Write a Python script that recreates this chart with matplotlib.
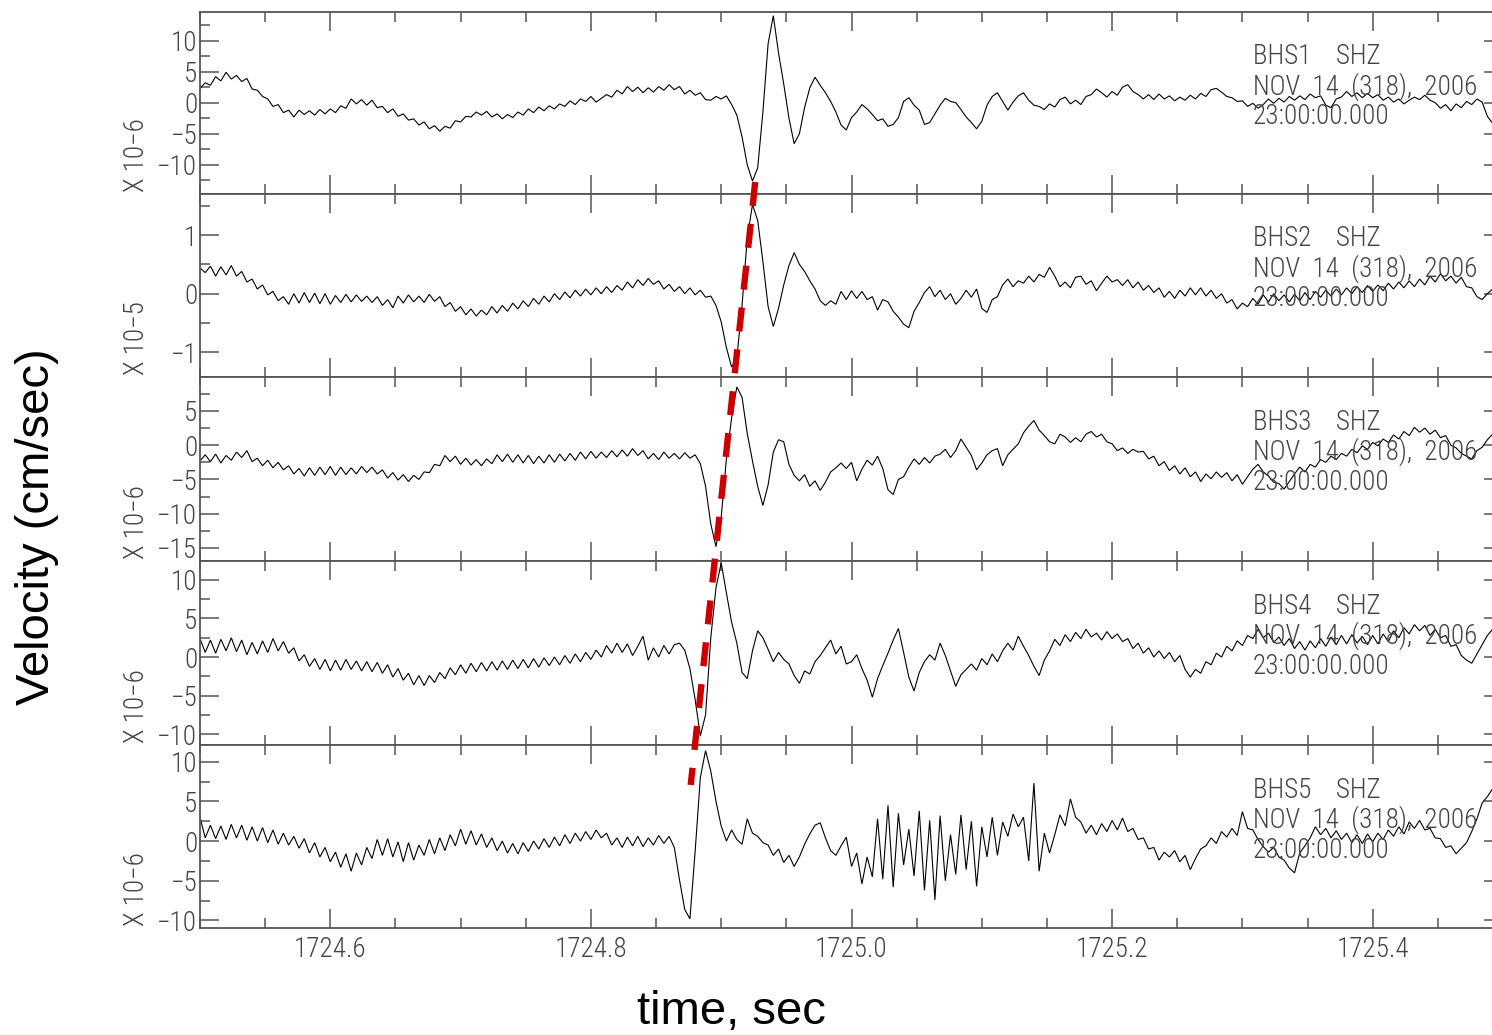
import numpy as np
import matplotlib
matplotlib.use("Agg")
import matplotlib.pyplot as plt
import matplotlib.transforms as mtransforms
from matplotlib.lines import Line2D
from matplotlib.ticker import MultipleLocator, FixedLocator, FixedFormatter

# ---- data -------------------------------------------------------------
t_start = 1724.5          # s
dt = 0.004                # s, sample spacing of the traces below

stations = ["BHS1", "BHS2", "BHS3", "BHS4", "BHS5"]
component = "SHZ"
date_line = "NOV  14  (318),  2006"
time_line = "23:00:00.000"
exponents = [-6, -5, -6, -6, -6]

bhs1 = [
    2.3, 3.2, 2.8, 4.2, 3.5, 4.9, 3.8, 4.4, 3.4, 3.9,
    2.2, 2.0, 1.0, 0.6, -0.6, -0.3, -1.6, -1.2, -2.3, -1.2,
    -1.9, -1.3, -2.0, -1.1, -1.8, -1.0, -1.6, -0.5, -0.9, 0.6,
    -0.2, 0.5, -0.4, 0.4, -0.8, -0.6, -1.6, -1.0, -2.2, -1.8,
    -2.8, -2.6, -3.6, -3.1, -4.2, -3.7, -4.6, -3.8, -4.1, -2.9,
    -3.1, -2.2, -2.3, -1.5, -2.0, -1.4, -2.3, -1.8, -2.6, -1.9,
    -2.4, -1.5, -2.0, -1.0, -1.6, -0.7, -1.3, -0.5, -1.0, -0.2,
    -0.6, 0.3, -0.3, 0.6, 0.2, 1.0, 0.1, 0.7, 1.3, 0.9,
    2.0, 1.4, 2.6, 1.8, 2.5, 1.6, 2.4, 1.7, 2.6, 2.0,
    2.9, 2.1, 2.6, 1.4, 2.0, 1.2, 1.6, 0.5, 0.4, 1.0,
    0.6, 1.1, -0.3, -2.0, -5.5, -10.0, -12.6, -10.5, -1.5, 9.5,
    14.0, 8.0, 3.0, -2.5, -6.6, -5.0, -0.8, 2.4, 4.1, 2.8,
    1.6, 0.2, -1.5, -3.6, -4.4, -2.4, -1.5, -0.3, -1.0, -1.9,
    -2.9, -2.6, -3.8, -3.5, -2.4, 0.2, 0.8, -0.4, -1.2, -3.5,
    -3.2, -1.8, -0.4, 0.7, 0.2, 0.0, -1.1, -2.3, -3.2, -4.2,
    -3.0, -0.4, 1.0, 1.6, 0.2, -1.2, 0.1, 1.1, 1.6, 0.4,
    -0.4, -0.6, -1.1, -0.2, -0.7, 0.5, 0.9, -0.2, 0.4, -0.3,
    1.0, 1.3, 2.2, 1.6, 0.9, 1.8, 1.2, 2.5, 2.9, 1.8,
    1.3, 0.6, 1.3, 0.5, 1.4, 0.6, 1.1, 0.3, 0.9, 0.4,
    1.2, 0.6, 1.5, 1.0, 2.1, 2.3, 1.7, 1.0, 0.8, 0.2,
    0.3, -0.6, -0.1, -0.9, -0.3, 0.6, -0.1, 0.7, 0.1, 1.0,
    0.4, 1.1, 0.5, 1.4, 0.8, 1.1, -0.4, -0.8, 0.6, 0.9,
    1.8, 1.0, 1.6, 0.8, 1.5, 0.8, 1.3, 0.4, 0.9, 0.1,
    0.6, -0.2, 0.4, 0.9, 0.5, 1.2, 0.4, 0.0, -0.9, -0.3,
    -1.3, -0.2, -0.8, 0.2, -0.3, 0.6, 0.1, -2.2, -3.3, -3.6,
    -3.8,
]

bhs2 = [
    0.44, 0.36, 0.47, 0.30, 0.46, 0.32, 0.48, 0.30, 0.38, 0.20,
    0.25, 0.08, 0.15, -0.02, 0.04, -0.12, -0.05, -0.18, 0.00, -0.16,
    0.02, -0.15, 0.01, -0.17, 0.00, -0.18, -0.03, -0.15, -0.01, -0.14,
    -0.02, -0.13, -0.04, -0.15, -0.05, -0.20, -0.10, -0.24, -0.04, -0.16,
    -0.02, -0.14, -0.04, -0.15, -0.01, -0.13, -0.05, -0.22, -0.15, -0.30,
    -0.22, -0.36, -0.26, -0.38, -0.28, -0.36, -0.22, -0.33, -0.20, -0.30,
    -0.16, -0.26, -0.12, -0.22, -0.08, -0.18, -0.04, -0.14, 0.00, -0.10,
    0.03, -0.07, 0.06, -0.04, 0.08, -0.02, 0.10, 0.00, 0.12, 0.02,
    0.14, 0.06, 0.20, 0.10, 0.24, 0.14, 0.26, 0.16, 0.22, 0.08,
    0.16, 0.04, 0.12, 0.00, 0.10, -0.02, 0.06, -0.06, -0.04, -0.20,
    -0.48, -0.92, -1.25, -1.10, -0.20, 0.95, 1.52, 1.25, 0.55, -0.22,
    -0.56, -0.25, 0.15, 0.48, 0.70, 0.50, 0.38, 0.22, 0.08, -0.12,
    -0.20, -0.12, -0.18, 0.04, -0.10, 0.05, -0.08, 0.04, -0.10, -0.05,
    -0.28, -0.10, -0.14, -0.30, -0.40, -0.52, -0.58, -0.30, -0.15, 0.02,
    0.12, -0.05, 0.06, -0.10, 0.00, -0.18, -0.08, 0.06, -0.06, 0.08,
    -0.25, -0.32, -0.10, -0.05, 0.15, 0.25, 0.12, 0.22, 0.18, 0.30,
    0.20, 0.33, 0.28, 0.45, 0.30, 0.12, 0.20, 0.10, 0.28, 0.30,
    0.16, 0.22, 0.05, 0.18, 0.30, 0.20, 0.24, 0.14, 0.24, 0.10,
    0.20, 0.06, 0.14, 0.02, 0.10, -0.06, 0.04, -0.08, 0.06, -0.04,
    0.10, -0.02, 0.10, -0.04, 0.06, -0.08, 0.00, -0.16, -0.10, -0.26,
    -0.16, -0.22, -0.08, -0.18, -0.02, -0.14, 0.00, -0.12, -0.02, -0.14,
    -0.01, -0.12, 0.02, -0.10, 0.04, -0.06, 0.06, -0.04, 0.08, -0.02,
    0.10, 0.00, 0.12, 0.02, 0.14, 0.04, 0.15, 0.05, 0.18, 0.08,
    0.20, 0.10, 0.22, 0.12, 0.25, 0.15, 0.30, 0.20, 0.34, 0.22,
    0.30, 0.18, 0.28, 0.12, 0.10, -0.05, -0.10, 0.00, 0.08, 0.05,
    0.10,
]

bhs3 = [
    -2.3, -1.4, -2.4, -1.3, -2.6, -1.5, -2.2, -1.0, -1.8, -0.8,
    -2.4, -1.9, -3.0, -2.2, -3.3, -2.5, -3.6, -3.0, -4.2, -3.4,
    -4.5, -3.3, -4.4, -3.2, -4.3, -3.1, -4.4, -3.2, -4.3, -3.3,
    -4.2, -3.1, -4.0, -3.2, -4.2, -3.6, -4.8, -4.0, -5.1, -4.3,
    -5.3, -4.4, -5.0, -3.9, -4.0, -2.8, -3.0, -1.5, -2.4, -1.6,
    -2.8, -1.9, -2.9, -2.1, -3.0, -2.0, -2.7, -1.4, -2.4, -1.3,
    -2.5, -1.4, -2.6, -1.5, -2.7, -1.6, -2.6, -1.4, -2.5, -1.3,
    -2.3, -1.2, -2.2, -1.0, -2.0, -0.9, -1.9, -1.0, -1.8, -0.8,
    -1.7, -0.7, -1.6, -0.5, -1.5, -0.8, -2.0, -1.2, -2.1, -1.0,
    -1.9, -1.2, -2.0, -1.1, -1.9, -1.4, -2.7, -6.0, -11.5, -14.8,
    -10.5, -2.0, 4.0, 8.5, 7.0, 1.7, -2.3, -6.0, -8.8, -5.8,
    -1.0, 0.8, 0.5, -2.8, -4.4, -5.2, -4.3, -6.0, -5.2, -6.6,
    -5.4, -3.9, -3.3, -2.6, -3.4, -2.5, -5.2, -3.5, -2.2, -2.9,
    -1.6, -3.4, -6.5, -7.2, -5.0, -4.6, -3.2, -2.0, -2.8, -1.8,
    -2.6, -1.6, -1.3, -0.6, -1.8, -0.8, 0.9, -0.3, -1.5, -3.6,
    -2.6, -1.4, -0.8, -0.5, -3.0, -1.4, -0.6, 0.2, 1.8, 2.8,
    3.6, 2.2, 1.4, 0.5, 0.2, 1.6, 1.2, 0.4, 1.1, 0.5,
    1.6, 2.0, 1.2, 1.6, 0.5, 0.2, -0.8, -0.4, -1.2, -0.6,
    -1.0, -0.9, -2.0, -1.6, -3.0, -2.4, -3.7, -3.0, -4.2, -3.3,
    -4.6, -3.9, -5.3, -4.2, -4.9, -3.9, -4.7, -4.0, -5.2, -4.3,
    -5.7, -4.6, -3.5, -2.8, -3.9, -4.5, -5.4, -5.6, -6.4, -5.3,
    -4.2, -3.2, -3.9, -2.8, -3.2, -2.1, -2.5, -1.6, -2.1, -1.2,
    -1.6, -0.6, -1.1, -0.1, -0.6, 0.4, -0.1, 0.9, 0.4, 1.5,
    0.9, 2.0, 1.4, 2.6, 1.9, 2.5, 1.6, 2.2, 1.1, 1.4,
    0.0, -0.4, -1.2, -1.6, -2.0, -0.8, -0.3, 0.8, 1.6, 1.2,
    1.8,
]

bhs4 = [
    2.4, 0.6, 2.2, 0.5, 2.3, 0.8, 2.5, 0.7, 2.2, 0.3,
    1.9, 0.4, 2.1, 0.6, 2.4, 0.8, 2.0, 0.5, 1.2, -0.5,
    0.3, -1.2, -0.2, -1.6, -0.3, -1.8, -0.4, -1.7, -0.3, -1.6,
    -0.5, -1.8, -0.6, -1.9, -0.7, -2.1, -1.0, -2.6, -1.5, -3.0,
    -2.1, -3.6, -2.4, -3.7, -2.4, -3.3, -2.0, -2.8, -1.4, -2.3,
    -1.0, -2.1, -0.8, -1.9, -0.7, -1.8, -0.6, -1.7, -0.5, -1.6,
    -0.4, -1.5, -0.3, -1.4, -0.2, -1.3, -0.1, -1.1, 0.0, -1.0,
    0.2, -0.8, 0.4, -0.6, 0.6, -0.3, 0.9, 0.0, 1.5, 0.5,
    1.8, 0.6, 1.7, 0.2, 1.4, 2.7, -0.4, 1.2, 0.0, 1.5,
    0.4, 1.6, 1.8, 0.9, -1.5, -5.5, -10.2, -7.5, 2.5, 9.0,
    12.2, 8.3, 4.5, 1.8, -2.0, -2.8, 0.8, 3.4, 2.5, 1.0,
    -0.6, 0.6, -0.3, -0.9, -2.4, -3.4, -1.8, -2.2, -0.6, 0.2,
    1.2, 2.2, 0.4, 1.4, -0.9, -0.6, 0.3, -1.5, -3.0, -5.2,
    -2.8, -1.1, 0.5, 2.2, 3.7, 0.6, -2.6, -4.4, -2.0, -0.6,
    0.3, -0.4, 1.8, 0.2, -1.8, -3.8, -2.3, -1.6, -0.9, -1.7,
    -0.2, -1.0, 0.4, -0.6, 0.8, 1.8, 0.9, 2.7, 1.4, 0.2,
    -1.2, -2.4, -0.4, 0.8, 2.3, 1.5, 2.9, 2.0, 3.2, 2.4,
    3.6, 2.6, 3.1, 2.2, 3.3, 2.4, 3.0, 2.0, 2.4, 1.1,
    1.8, 0.5, 1.2, 0.0, 0.8, -0.2, 0.6, -0.6, 0.2, -1.6,
    -2.6, -1.6, -2.1, -0.6, -1.0, 0.5, 0.0, 1.4, 0.8, 2.1,
    1.5, 2.8, 2.4, 3.6, 2.5, 3.1, 1.9, 2.6, 1.5, 2.4,
    1.1, 2.0, 0.9, 2.1, 1.2, 2.4, 1.4, 2.6, 1.6, 2.8,
    1.7, 2.9, 1.8, 2.7, 1.6, 2.8, 1.7, 3.0, 2.0, 3.4,
    2.5, 3.8, 3.0, 4.2, 3.4, 4.1, 2.8, 3.6, 2.5, 2.8,
    1.4, 1.6, 0.2, -0.4, -0.8, 0.4, 1.6, 2.8, 3.6, 3.2,
    3.8,
]

bhs5 = [
    3.0, 0.4, 2.0, 0.3, 1.9, 0.2, 2.1, 0.4, 2.0, 0.1,
    1.8, 0.0, 1.7, -0.2, 1.4, -0.4, 1.0, -0.5, 0.6, -0.9,
    0.3, -1.5, -0.2, -2.0, -0.8, -2.6, -1.4, -3.3, -1.6, -3.8,
    -1.5, -3.0, -0.8, -2.2, 0.2, -1.8, 0.3, -2.0, -0.1, -2.6,
    -0.2, -2.4, -0.5, -1.8, 0.2, -1.6, 0.4, -1.2, 0.8, -0.6,
    1.5, -0.4, 1.3, -0.5, 0.9, -0.8, 0.4, -1.2, 0.0, -1.5,
    -0.3, -1.6, -0.2, -1.3, 0.0, -1.0, 0.3, -0.8, 0.5, -0.6,
    0.8, -0.3, 1.0, 0.0, 1.2, 0.2, 1.4, 0.4, 1.0, -0.5,
    0.4, -0.8, 0.5, -0.6, 0.6, -0.7, 0.4, -0.5, 0.7, -0.3,
    0.6, -0.8, -4.9, -8.6, -9.8, -1.3, 8.0, 11.4, 8.8, 5.0,
    1.9, 0.0, 1.4, 0.2, -0.4, 2.8, 1.0, 0.6, -0.2, -0.5,
    -1.8, -1.0, -2.7, -1.8, -3.2, -2.0, -0.4, 0.9, 2.0, 2.3,
    0.4, -1.2, -1.8, -0.6, 0.5, -3.2, -1.5, -5.4, -2.0, -4.5,
    2.8, -4.8, 4.5, -5.8, 3.5, -3.0, 1.5, -4.4, 3.8, -6.2,
    2.6, -7.4, 3.2, -5.0, 0.8, -4.2, 3.3, -3.6, 2.5, -5.7,
    1.8, -2.0, 3.0, -1.8, 2.4, 0.6, 3.4, 1.8, 3.0, -2.5,
    7.3, -3.8, 1.0, -1.5, 0.8, 3.3, 1.9, 5.3, 3.0, 2.4,
    1.0, 2.0, 0.8, 2.2, 1.2, 2.6, 1.4, 2.9, 1.2, 1.6,
    0.2, 0.4, -1.0, -0.8, -2.4, -1.4, -2.0, -1.2, -2.6, -1.8,
    -3.6, -2.2, -1.0, -0.6, 0.4, -0.3, 1.2, 0.5, 1.6, 0.7,
    3.7, 1.6, 1.4, 0.2, -0.7, -1.4, -0.8, -2.0, -2.4, -3.4,
    -4.0, -1.5, -0.6, 0.4, 1.8, 0.8, 1.6, 0.4, 1.3, 0.2,
    1.0, -0.2, 0.8, -0.3, 0.9, -0.1, 1.0, 0.2, 1.4, 0.6,
    1.8, 0.9, 2.4, 1.6, 2.6, 1.4, 1.6, 0.4, 0.3, -0.8,
    -0.6, -1.6, -0.9, -0.2, 1.2, 2.8, 4.8, 5.6, 6.6, 6.4,
    7.0,
]

traces = [bhs1, bhs2, bhs3, bhs4, bhs5]

# axis ranges (in units of the panel's power of ten) and tick steps
ylims = [(-14.7, 14.6), (-1.42, 1.70), (-16.9, 9.95), (-11.4, 12.45), (-10.95, 12.1)]
major_steps = [5, 1, 5, 5, 5]

xlim = (1724.5, 1725.5)
xticks = [1724.6, 1724.8, 1725.0, 1725.2, 1725.4]
xtick_labels = ["1724.6", "1724.8", "1725.0", "1725.2", "1725.4"]

# onset picks joined by the dashed line (top, bottom)
pick_times = [1724.9261, 1724.8766]

# ---- layout -----------------------------------------------------------
W, H = 1492, 1035
panel_top = [12, 194, 377, 561, 745]
panel_bot = [194, 377, 561, 745, 928]
ax_left, ax_width = 200, 1303

thin_font = ["Roboto Condensed", "Liberation Sans Narrow", "DejaVu Sans"]
label_font = ["Liberation Sans", "Arial", "DejaVu Sans"]
ink = "#444444"
frame = "#555555"

plt.rcParams["font.family"] = thin_font
plt.rcParams["font.weight"] = "light"
plt.rcParams["axes.unicode_minus"] = True

fig = plt.figure(figsize=(W / 100, H / 100), dpi=100)
fig.patch.set_facecolor("white")

axes = []
for k in range(5):
    top, bot = panel_top[k], panel_bot[k]
    ax = fig.add_axes([ax_left / W, 1 - bot / H, ax_width / W, (bot - top) / H])
    vals = np.asarray(traces[k], dtype=float)
    t = t_start + dt * np.arange(len(vals))
    ax.plot(t, vals, color="black", lw=0.8, solid_joinstyle="miter")
    ax.set_xlim(*xlim)
    ax.set_ylim(*ylims[k])

    ax.xaxis.set_major_locator(FixedLocator(xticks))
    ax.xaxis.set_minor_locator(MultipleLocator(0.05))
    ax.yaxis.set_major_locator(MultipleLocator(major_steps[k]))
    ax.yaxis.set_minor_locator(MultipleLocator(major_steps[k] / 2))

    ax.tick_params(which="both", direction="in", top=True, bottom=True,
                   left=True, right=True, color=frame, width=1.1)
    ax.tick_params(which="major", length=14)
    ax.tick_params(which="minor", length=7)
    ax.tick_params(axis="y", labelsize=19.5, labelcolor=ink, pad=2)
    ax.tick_params(axis="x", labelsize=19.5, labelcolor=ink, pad=6)

    if k < 4:
        ax.tick_params(axis="x", labelbottom=False)
    else:
        ax.xaxis.set_major_formatter(FixedFormatter(xtick_labels))

    for sp in ax.spines.values():
        sp.set_color(frame)
        sp.set_linewidth(1.3)

    # power-of-ten note beside the amplitude axis
    fig.text(137 / W, 1 - (bot - 2) / H, "X 10\u2212%d" % abs(exponents[k]),
             rotation=90, ha="center", va="bottom", fontsize=19.5, color=ink)

    # station header
    header = ["%s    %s" % (stations[k], component), date_line, time_line]
    for j, line in enumerate(header):
        fig.text(1253 / W, 1 - (top + 45 + 30 * j) / H, line,
                 ha="left", va="center", fontsize=19.5, color=ink)
    axes.append(ax)

# dashed line through the onsets, drawn across all panels
onset_lw = 4.6
blend = mtransforms.blended_transform_factory(axes[-1].transData, fig.transFigure)
onset = Line2D(pick_times, [1 - 182 / H, 1 - 785 / H], transform=blend,
               color="#cc0000", lw=onset_lw, dash_capstyle="butt",
               linestyle=(0, (17.3 / onset_lw, 13.0 / onset_lw)))
fig.add_artist(onset)

fig.text(37 / W, 1 - 527 / H, "Velocity (cm/sec)", rotation=90,
         ha="center", va="center", fontsize=34, family=label_font,
         weight="normal", color="black")
fig.text(731 / W, 1 - 1012 / H, "time, sec", ha="center", va="center",
         fontsize=34, family=label_font, weight="normal", color="black")

fig.savefig("out.png", dpi=100, facecolor="white")
